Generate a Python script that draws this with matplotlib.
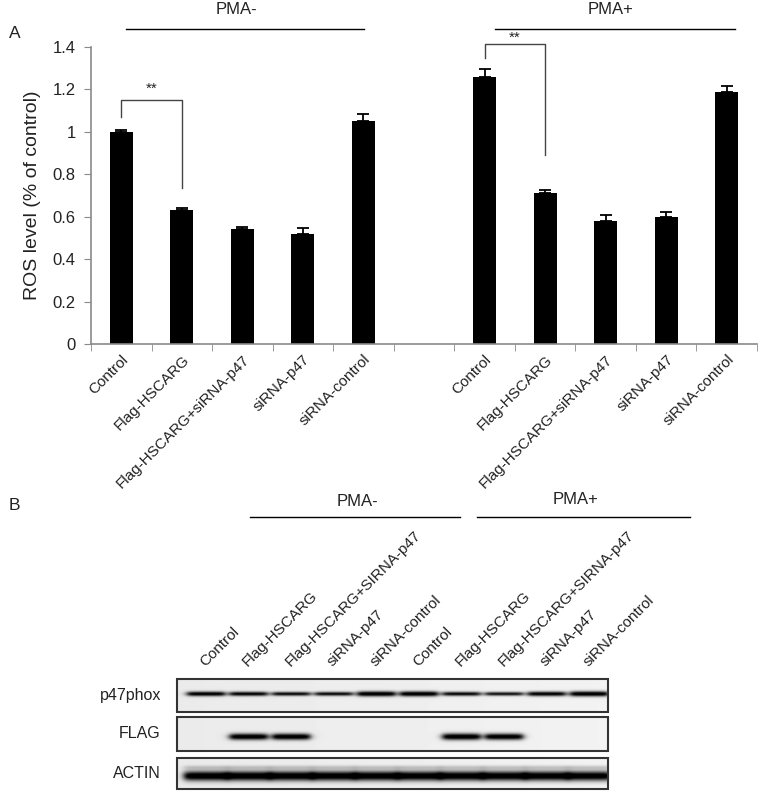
import numpy as np
import matplotlib
matplotlib.use("Agg")
import matplotlib.pyplot as plt
from matplotlib.patches import Rectangle

plt.rcParams['font.family'] = ['Liberation Sans', 'DejaVu Sans']

# ---------------- data ----------------
categories = ["Control", "Flag-HSCARG", "Flag-HSCARG+siRNA-p47", "siRNA-p47", "siRNA-control"]
pma_minus = [1.00, 0.63, 0.54, 0.52, 1.05]
pma_minus_err = [0.01, 0.01, 0.01, 0.025, 0.035]
pma_plus = [1.26, 0.71, 0.58, 0.60, 1.19]
pma_plus_err = [0.035, 0.015, 0.03, 0.02, 0.025]
y_ticks = [0, 0.2, 0.4, 0.6, 0.8, 1.0, 1.2, 1.4]

blot_lanes = ["Control", "Flag-HSCARG", "Flag-HSCARG+SIRNA-p47", "siRNA-p47", "siRNA-control",
              "Control", "Flag-HSCARG", "Flag-HSCARG+SIRNA-p47", "siRNA-p47", "siRNA-control"]
blot_rows = ["p47phox", "FLAG", "ACTIN"]
p47_intensity = [0.80, 0.70, 0.60, 0.60, 0.95, 0.95, 0.65, 0.55, 0.80, 0.97]
flag_intensity = [0.0, 0.90, 0.90, 0.0, 0.0, 0.0, 0.95, 0.90, 0.0, 0.0]
actin_intensity = [0.95, 0.95, 0.95, 0.95, 0.95, 0.95, 0.95, 0.95, 0.95, 0.95]

W, H = 759, 794
fig = plt.figure(figsize=(W / 100, H / 100), dpi=100)


def fa(x0, y0, x1, y1):
    return [x0 / W, 1 - y1 / H, (x1 - x0) / W, (y1 - y0) / H]


gray = "#8a8a8a"
txt = "#222222"

# ---------------- panel A ----------------
ax = fig.add_axes(fa(91, 47, 757, 344))
pos_minus = np.arange(5)
pos_plus = np.arange(6, 11)
ekw = dict(ecolor="black", elinewidth=1.3, capthick=1.3)
ax.bar(pos_minus, pma_minus, width=0.38, color="black",
       yerr=[np.zeros(5), pma_minus_err], capsize=4, error_kw=ekw)
ax.bar(pos_plus, pma_plus, width=0.38, color="black",
       yerr=[np.zeros(5), pma_plus_err], capsize=4, error_kw=ekw)
ax.set_xlim(-0.5, 10.5)
ax.set_ylim(0, 1.4)
ax.set_yticks(y_ticks, ["%g" % v for v in y_ticks])
ax.set_xticks(list(pos_minus) + list(pos_plus), categories + categories,
              rotation=45, ha="right", rotation_mode="anchor")
ax.set_xticks(np.arange(-0.5, 10.6, 1), minor=True)
for s in ["top", "right"]:
    ax.spines[s].set_visible(False)
for s in ["left", "bottom"]:
    ax.spines[s].set_color(gray)
    ax.spines[s].set_linewidth(1.2)
ax.tick_params(axis="y", direction="out", length=5, color=gray, labelsize=12,
               labelcolor=txt, pad=6)
ax.tick_params(axis="x", which="major", length=0, labelsize=11, labelcolor=txt, pad=6)
ax.tick_params(axis="x", which="minor", direction="out", length=5, color=gray)
ax.set_ylabel("ROS level (% of control)", fontsize=14, color=txt, labelpad=8)

# significance brackets
ax.plot([0, 0, 1, 1], [1.07, 1.15, 1.15, 0.735], color="#444444", lw=1, clip_on=False)
ax.text(0.5, 1.203, "**", ha="center", va="center", fontsize=11, color=txt)
ax.plot([6, 6, 7, 7], [1.347, 1.415, 1.415, 0.89], color="#444444", lw=1, clip_on=False)
ax.text(6.5, 1.445, "**", ha="center", va="center", fontsize=11, color=txt)

# group lines
ax.plot([0.08, 4.01], [1.486, 1.486], color="black", lw=1, clip_on=False)
ax.plot([6.18, 10.13], [1.486, 1.486], color="black", lw=1, clip_on=False)
ax.text(1.9, 1.575, "PMA-", ha="center", va="center", fontsize=12, color=txt)
ax.text(8.08, 1.575, "PMA+", ha="center", va="center", fontsize=12, color=txt)

# ---------------- overlay for panel labels and blot ----------------
ov = fig.add_axes([0, 0, 1, 1])
ov.set_xlim(0, W)
ov.set_ylim(H, 0)
ov.axis("off")
ov.patch.set_visible(False)

ov.text(9, 33, "A", fontsize=12.5, color=txt, va="center")
ov.text(9, 505, "B", fontsize=12.5, color=txt, va="center")

ov.plot([250, 460], [517, 517], color="black", lw=1)
ov.plot([477, 690], [517, 517], color="black", lw=1)
ov.text(357, 502, "PMA-", ha="center", va="center", fontsize=12, color=txt)
ov.text(576, 499, "PMA+", ha="center", va="center", fontsize=12, color=txt)

# blot strips
box_x0, box_x1 = 177, 608
lane_x0, lane_step = 206, 42.6
strips = [
    ("p47phox", 679, 712, p47_intensity, 0.45, 2.0, 19),
    ("FLAG", 717, 751, flag_intensity, 0.58, 2.6, 19),
    ("ACTIN", 758, 789, actin_intensity, 0.58, 3.8, 22),
]
lane_centers = [lane_x0 + lane_step * i for i in range(len(blot_lanes))]
for name, y0, y1, inten, yfrac, thick, hw in strips:
    hh, ww = (y1 - y0) * 4, (box_x1 - box_x0) * 4
    yy = np.linspace(y0, y1, hh)[:, None]
    xx = np.linspace(box_x0, box_x1, ww)[None, :]
    img = np.full((hh, ww), 0.92) + 0.03 * (xx - box_x0) / (box_x1 - box_x0)
    yc = y0 + (y1 - y0) * yfrac
    for xc, a in zip(lane_centers, inten):
        if a <= 0:
            continue
        th = thick * (0.5 + 0.8 * a)
        hprof = 1 / (1 + np.exp((np.abs(xx - xc) - hw) / 2.0))
        vprof = np.exp(-((yy - yc) / th) ** 2)
        img -= 1.1 * (0.6 + 0.4 * a) * hprof * vprof
    if name == "ACTIN":
        for xc in lane_centers:
            hprof = 1 / (1 + np.exp((np.abs(xx - xc) - hw) / 2.0))
            img -= 0.15 * hprof * np.exp(-((yy - (y0 + 0.3 * (y1 - y0))) / 2.0) ** 2)
    img = np.clip(img, 0, 1)
    ov.imshow(img, cmap="gray", vmin=0, vmax=1, extent=(box_x0, box_x1, y1, y0),
              aspect="auto", interpolation="bilinear", zorder=1)
    ov.add_patch(Rectangle((box_x0, y0), box_x1 - box_x0, y1 - y0, fill=False,
                           edgecolor="#333333", lw=1.5, zorder=2))
    ov.text(box_x0 - 16, (y0 + y1) / 2, name, ha="right", va="center", fontsize=11.5, color=txt)

ov.set_xlim(0, W)
ov.set_ylim(H, 0)

for xc, lab in zip(lane_centers, blot_lanes):
    ov.text(xc - 1, 667, lab, rotation=45, ha="left", va="baseline", rotation_mode="anchor",
            fontsize=11, color=txt)

fig.savefig("out.png", dpi=100)
